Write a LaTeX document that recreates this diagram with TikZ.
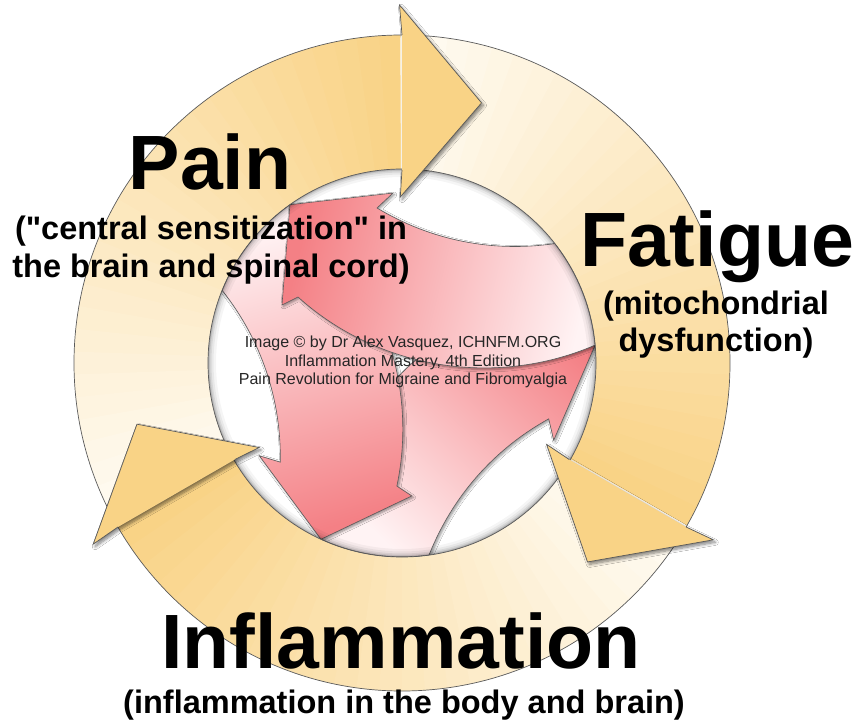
\documentclass[tikz,border=0pt]{standalone}
\usepackage{fontspec}
\setmainfont{Liberation Sans}
\usetikzlibrary{shadows.blur}
\definecolor{orH}{RGB}{249,211,134}
\definecolor{orT}{RGB}{255,251,243}
\definecolor{rdH}{RGB}{244,128,133}
\definecolor{rdT}{RGB}{255,243,244}
\definecolor{edgec}{RGB}{90,90,90}
\newcommand{\sdq}{{\XeTeXglyph\XeTeXcharglyph"0022\relax}}
\newcommand{\redarrow}[2]{%
  \path[rdarrow, shading angle=#2]
    ({#1+125.3}:194) -- ({#1+93.03}:170.2) -- ({#1+99.16}:157)
    .. controls ({#1+77.24}:126.3) and ({#1+50.83}:142) .. ({#1+38}:194)
    arc[start angle={#1+38}, end angle={#1+5.3}, radius=194]
    .. controls ({#1-14.94}:97) and ({#1+195.46}:24.4) .. ({#1+147.6}:123.2)
    -- ({#1+154.2}:133.3) -- cycle;}
\newcommand{\orhead}[1]{%
  \path[headfill] ({#1}:328) -- ({#1+0.4}:358) -- ({#1-17}:272) -- ({#1+0.6}:166) -- ({#1}:193) -- cycle;
  \draw[ringedge] ({#1}:328) -- ({#1+0.4}:358) -- ({#1-17}:272) -- ({#1+0.6}:166) -- ({#1}:193);}
\begin{document}
\begin{tikzpicture}[x=1pt,y=1pt,
  ringedge/.style={draw=edgec, line width=0.7pt, line join=miter},
  headfill/.style={fill=orH, blur shadow={shadow xshift=2pt, shadow yshift=-2.5pt, shadow opacity=50, shadow blur radius=3pt, shadow blur steps=8}},
  rdarrow/.style={draw=edgec, line width=0.6pt, top color=rdT, bottom color=rdH,
     blur shadow={shadow xshift=1.5pt, shadow yshift=-1.5pt, shadow opacity=45, shadow blur radius=2.5pt, shadow blur steps=6}},
  title/.style={font=\fontsize{77}{80}\selectfont\bfseries, inner sep=0pt, anchor=base},
  subt/.style={font=\fontsize{32.5}{36}\selectfont\bfseries, inner sep=0pt, anchor=base},
  wmk/.style={font=\fontsize{16}{18}\selectfont, text=black!85, inner sep=0pt, anchor=base}]
\useasboundingbox (0,0) rectangle (856,723);
\fill[white] (0,0) rectangle (856,723);
\coordinate (O) at (402,360);
\begin{scope}[shift={(O)}]
  % ring bodies with angular gradient
  \foreach \t in {90,330,210}{
    \foreach \i in {0,...,29}{
      \pgfmathsetmacro{\a}{\t+4*\i}
      \pgfmathsetmacro{\b}{\t+4*\i+4.3}
      \pgfmathsetmacro{\p}{100-100*\i/29}
      \fill[orH!\p!orT] (\a:193) arc[start angle=\a, end angle=\b, radius=193]
        -- (\b:328) arc[start angle=\b, end angle=\a, radius=328] -- cycle;
    }
  }
  \draw[ringedge] (0,0) circle[radius=328];
  % inner circle
  \fill[white] (0,0) circle[radius=194];
  \begin{scope}
    \clip (0,0) circle[radius=194];
    \redarrow{240}{136.5}
    \redarrow{120}{16.5}
    \redarrow{0}{-103.5}
    \foreach \w/\o in {16/0.04,11/0.05,7/0.07,4/0.09,2/0.12}{
      \draw[black, opacity=\o, line width=\w pt] (0,0) circle[radius=194];
    }
  \end{scope}
  \draw[ringedge] (0,0) circle[radius=194];
  % orange arrow heads
  \orhead{90}
  \orhead{330}
  \orhead{210}
\end{scope}
% watermark
\node[wmk] (w1) at (403,375) {Image © by Dr Alex Vasquez, ICHNFM.ORG};
\node[wmk] (w2) at (403,356) {Inflammation Mastery, 4th Edition};
\node[wmk] (w3) at (403,338) {Pain Revolution for Migraine and Fibromyalgia};
% titles
\node[title] (pain) at (210,533) {Pain};
\node[subt] (pain1) at (211,483) {(\sdq central sensitization\sdq{} in};
\node[subt] (pain2) at (211,445) {the brain and spinal cord)};
\node[title] (fat) at (717,456) {Fatigue};
\node[subt] (fat1) at (716,408) {(mitochondrial};
\node[subt] (fat2) at (716,371) {dysfunction)};
\node[title] (inf) at (401,55) {Inflammation};
\node[subt] (inf1) at (404,10) {(inflammation in the body and brain)};
\end{tikzpicture}
\end{document}
